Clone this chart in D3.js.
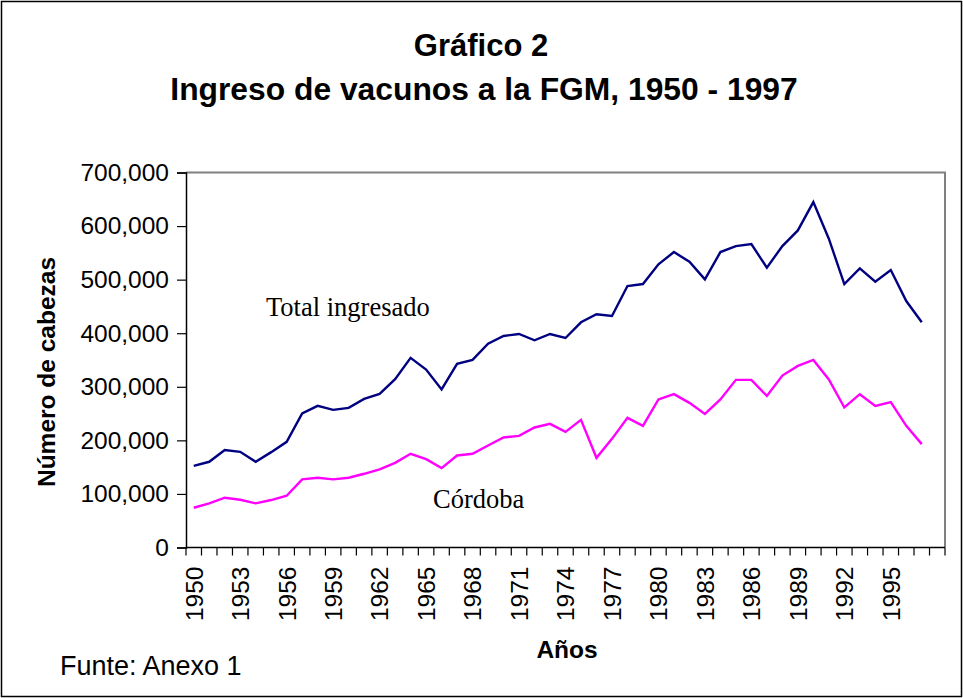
<!DOCTYPE html>
<html>
<head>
<meta charset="utf-8">
<script src="https://cdn.jsdelivr.net/npm/d3@7"></script>
<style>
  body { margin: 0; background: #fff; }
  svg { display: block; font-family: "Liberation Sans", Arial, sans-serif; }
</style>
</head>
<body>
<div id="vis"></div>
<script>
// categories (Excel range had a trailing blank row, so one empty slot)
const years = [
  "1950", "1951", "1952", "1953", "1954", "1955", "1956", "1957", "1958", "1959",
  "1960", "1961", "1962", "1963", "1964", "1965", "1966", "1967", "1968", "1969",
  "1970", "1971", "1972", "1973", "1974", "1975", "1976", "1977", "1978", "1979",
  "1980", "1981", "1982", "1983", "1984", "1985", "1986", "1987", "1988", "1989",
  "1990", "1991", "1992", "1993", "1994", "1995", "1996", "1997", ""
];

const totalIngresado = [
  152500, 160000, 181800, 178600, 160000, 178000, 197300, 250100, 264400, 257000,
  260700, 277500, 286800, 314100, 353900, 332200, 295000, 342700, 350100, 380600,
  394900, 398600, 386800, 398600, 391100, 420400, 435300, 432200, 488100, 491800,
  528500, 551500, 533500, 500600, 551500, 562700, 566400, 522300, 562700, 591900,
  644700, 576400, 491800, 521100, 496200, 518000, 460100, 420400
];

const cordoba = [
  74200, 82400, 92900, 89200, 82400, 88600, 96600, 127100, 130200, 127100,
  130200, 137600, 145800, 158100, 174900, 165000, 148200, 171800, 174900, 190500,
  205400, 208400, 224000, 230800, 215900, 238300, 167400, 202800, 242000, 227100,
  276300, 286200, 270000, 249400, 276300, 312900, 312900, 283000, 321000, 339000,
  350100, 313600, 261400, 286200, 264400, 271300, 227100, 193000
];

const yTicks = [0, 100000, 200000, 300000, 400000, 500000, 600000, 700000];

const width = 963;
const height = 698;
const margin = { top: 172.5, right: 18, bottom: 150.5, left: 186 };
const innerW = width - margin.left - margin.right;
const innerH = height - margin.top - margin.bottom;

const svg = d3
  .select("#vis")
  .append("svg")
  .attr("width", width)
  .attr("height", height);

// outer chart border
svg
  .append("rect")
  .attr("x", 1.5)
  .attr("y", 1.5)
  .attr("width", width - 3)
  .attr("height", height - 3)
  .attr("fill", "none")
  .attr("stroke", "#000")
  .attr("stroke-width", 1.5);

// titles
svg
  .append("text")
  .attr("x", 481)
  .attr("y", 56)
  .attr("text-anchor", "middle")
  .style("font-weight", "bold")
  .style("font-size", "31px")
  .text("Gráfico 2");

svg
  .append("text")
  .attr("x", 484)
  .attr("y", 100)
  .attr("text-anchor", "middle")
  .style("font-weight", "bold")
  .style("font-size", "31.8px")
  .text("Ingreso de vacunos a la FGM, 1950 - 1997");

const g = svg
  .append("g")
  .attr("transform", `translate(${margin.left},${margin.top})`);

const x = d3.scaleBand().domain(d3.range(years.length)).range([0, innerW]);
const y = d3.scaleLinear().domain([0, 700000]).range([innerH, 0]);

// plot area frame (grey on top / right)
g.append("path")
  .attr("d", `M0,0H${innerW}V${innerH}`)
  .attr("fill", "none")
  .attr("stroke", "#808080")
  .attr("stroke-width", 2);

// y axis
const yAxis = g
  .append("g")
  .call(
    d3
      .axisLeft(y)
      .tickValues(yTicks)
      .tickSize(9)
      .tickPadding(8)
      .tickFormat((d) => (d === 0 ? "0" : d3.format(",")(d)))
  );
yAxis.select(".domain").attr("stroke", "#000").attr("stroke-width", 1.5);
yAxis.selectAll(".tick line").attr("stroke", "#000").attr("stroke-width", 1.2);
yAxis
  .selectAll(".tick text")
  .style("font-size", "24.5px")
  .style("font-family", "Liberation Sans, Arial, sans-serif")
  .attr("fill", "#000");

// x axis: ticks sit between categories, labels every 3 years
const xAxis = g.append("g").attr("transform", `translate(0,${innerH})`);
xAxis
  .append("line")
  .attr("x1", 0)
  .attr("x2", innerW)
  .attr("stroke", "#000")
  .attr("stroke-width", 1.5);

xAxis
  .selectAll(".xtick")
  .data(d3.range(years.length + 1))
  .enter()
  .append("line")
  .attr("class", "xtick")
  .attr("x1", (i) => (i < years.length ? x(i) : innerW))
  .attr("x2", (i) => (i < years.length ? x(i) : innerW))
  .attr("y1", 0)
  .attr("y2", 8)
  .attr("stroke", "#000")
  .attr("stroke-width", 1.2);

xAxis
  .selectAll(".xlabel")
  .data(d3.range(years.length).filter((i) => i % 3 === 0 && years[i] !== ""))
  .enter()
  .append("text")
  .attr("class", "xlabel")
  .attr(
    "transform",
    (i) => `translate(${x(i) + x.bandwidth() / 2},19) rotate(-90)`
  )
  .attr("text-anchor", "end")
  .attr("dy", "0.36em")
  .style("font-size", "24.5px")
  .text((i) => years[i]);

// axis titles
svg
  .append("text")
  .attr("transform", "translate(55,372) rotate(-90)")
  .attr("text-anchor", "middle")
  .style("font-weight", "bold")
  .style("font-size", "24.5px")
  .text("Número de cabezas");

svg
  .append("text")
  .attr("x", 567)
  .attr("y", 658)
  .attr("text-anchor", "middle")
  .style("font-weight", "bold")
  .style("font-size", "24.5px")
  .text("Años");

svg
  .append("text")
  .attr("x", 60)
  .attr("y", 675)
  .style("font-size", "27px")
  .text("Funte: Anexo 1");

// lines
const line = d3
  .line()
  .x((d, i) => x(i) + x.bandwidth() / 2)
  .y((d) => y(d));

g.append("path")
  .datum(totalIngresado)
  .attr("d", line)
  .attr("fill", "none")
  .attr("stroke", "#000080")
  .attr("stroke-width", 2.4);

g.append("path")
  .datum(cordoba)
  .attr("d", line)
  .attr("fill", "none")
  .attr("stroke", "#FF00FF")
  .attr("stroke-width", 2.4);

// series labels
svg
  .append("text")
  .attr("x", 266)
  .attr("y", 316)
  .style("font-family", "Liberation Serif, 'Times New Roman', serif")
  .style("font-size", "26.5px")
  .text("Total ingresado");

svg
  .append("text")
  .attr("x", 433)
  .attr("y", 508)
  .style("font-family", "Liberation Serif, 'Times New Roman', serif")
  .style("font-size", "26.5px")
  .text("Córdoba");
</script>
</body>
</html>
